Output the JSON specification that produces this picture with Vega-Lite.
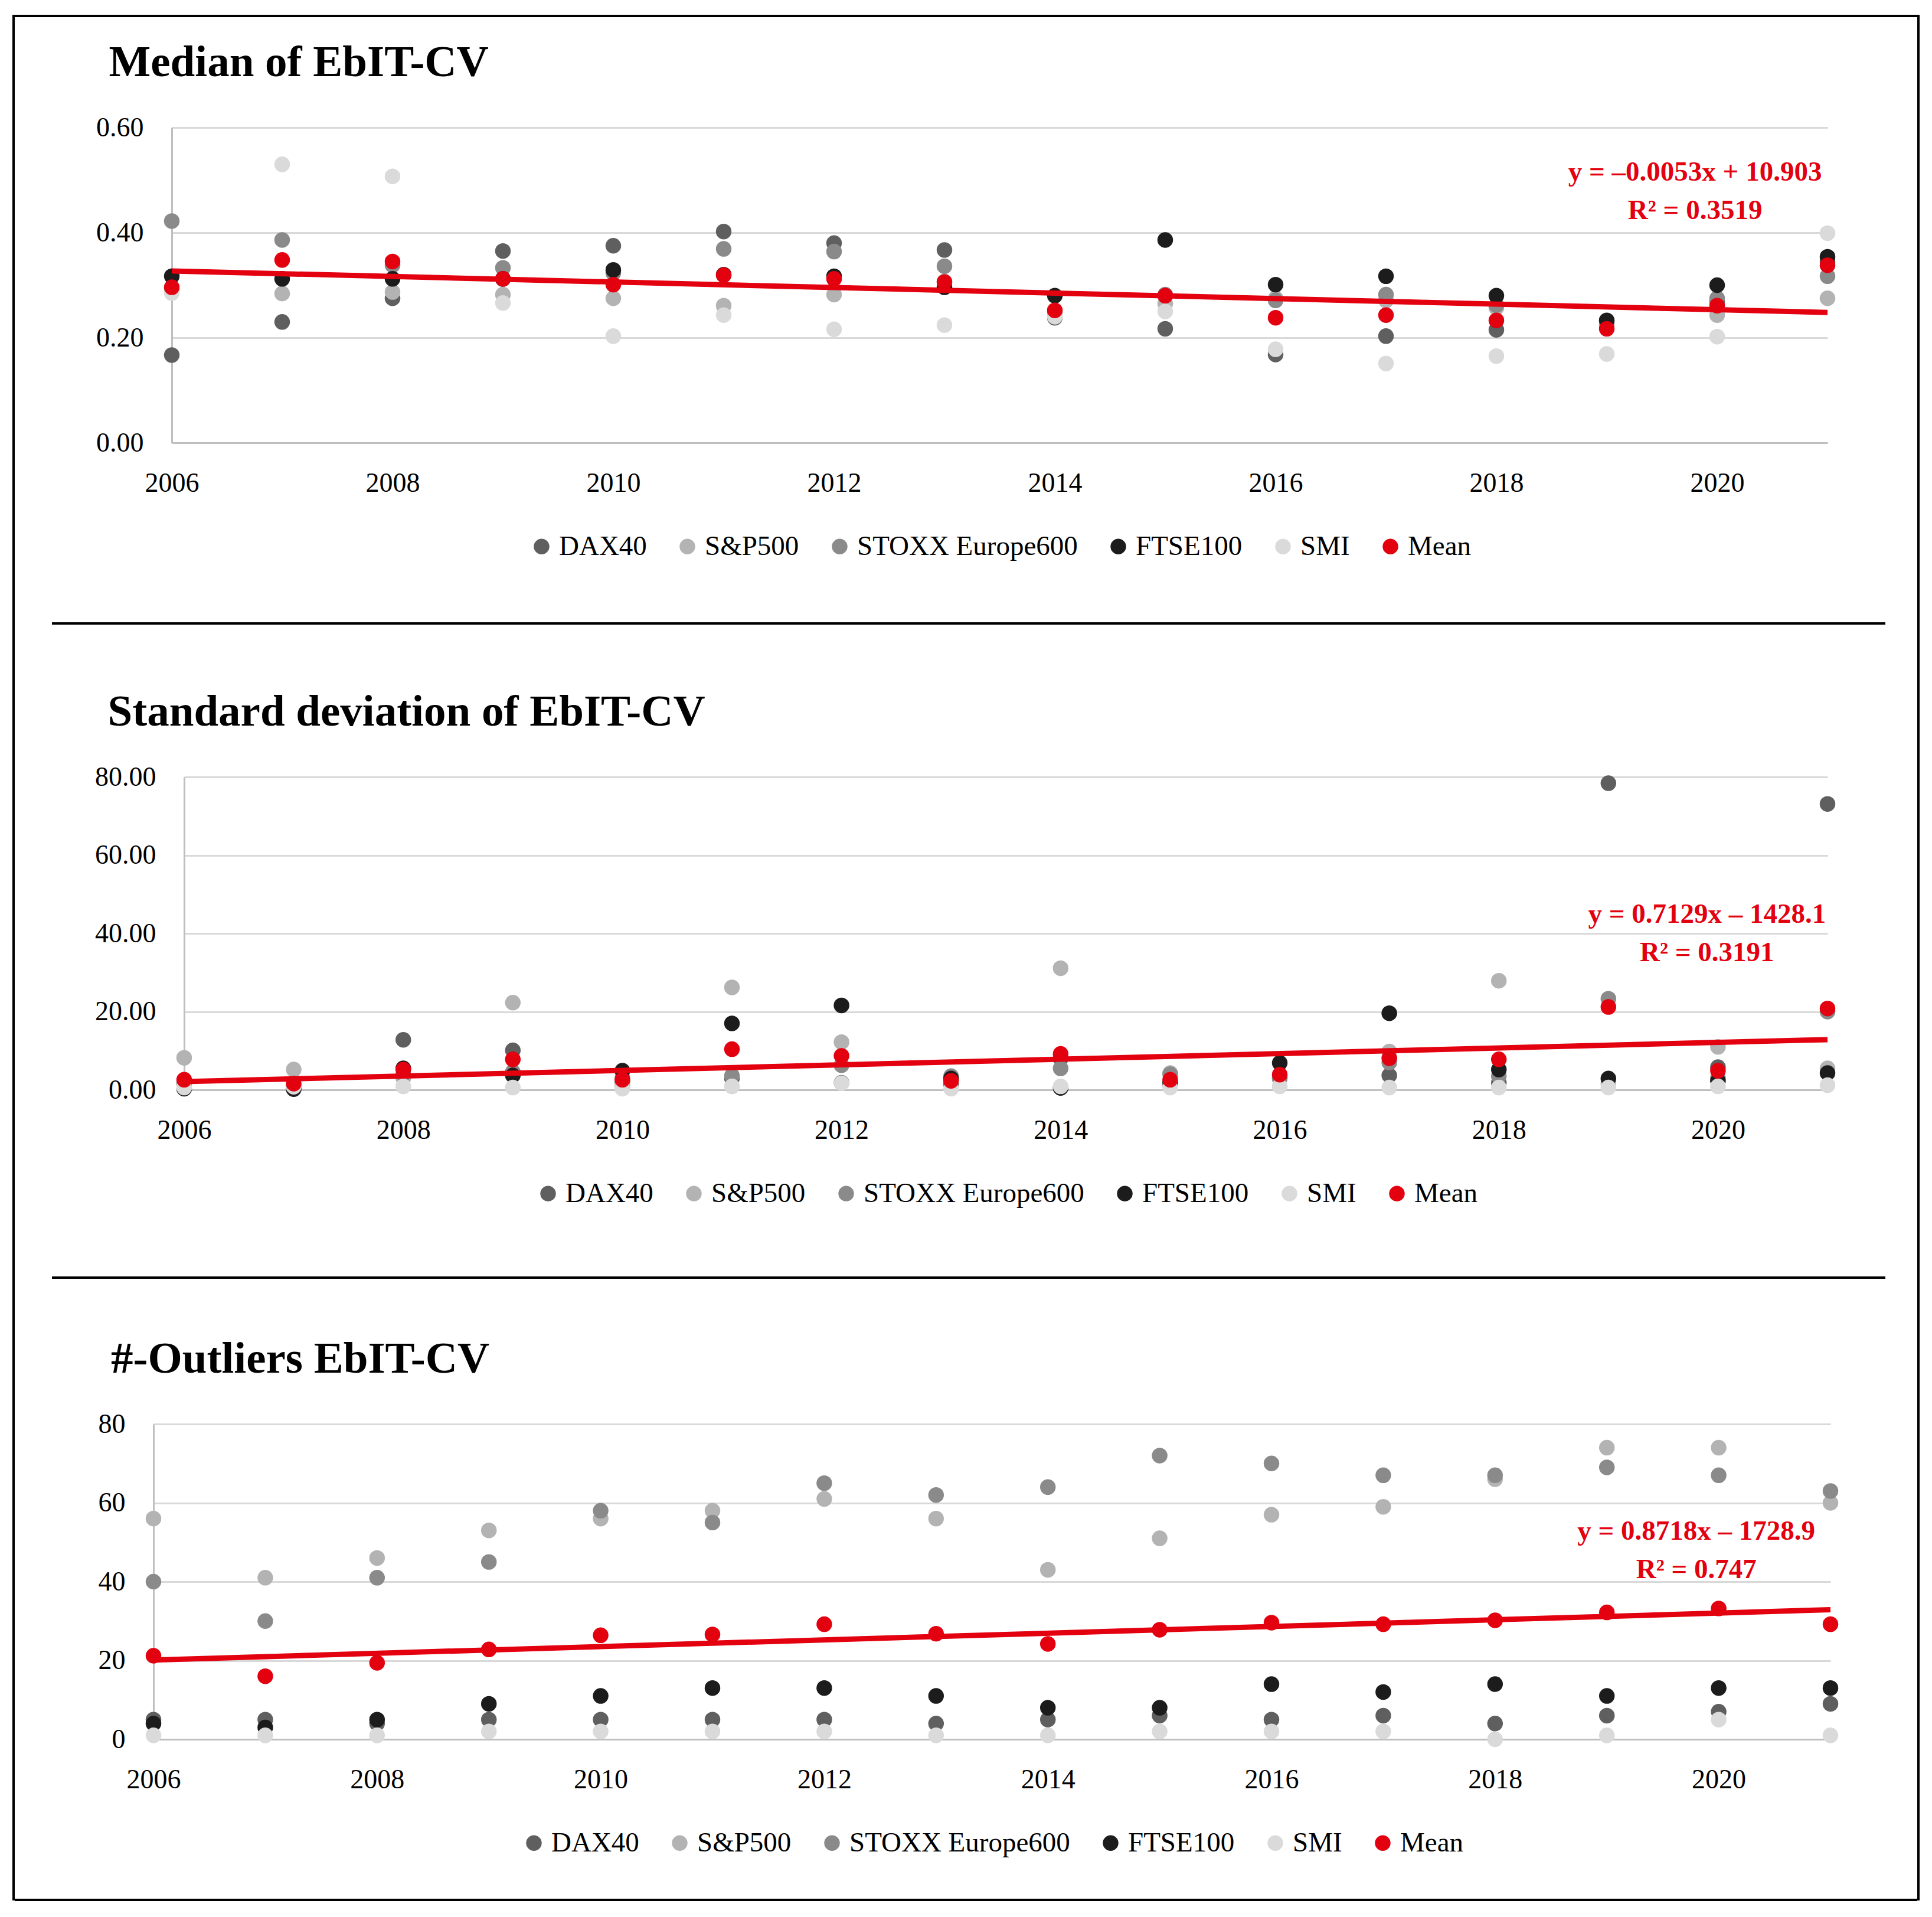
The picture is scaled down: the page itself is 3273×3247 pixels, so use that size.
{
  "$schema": "https://vega.github.io/schema/vega-lite/v6.json",
  "padding": {"left": 21, "top": 25, "right": 0, "bottom": 0},
  "background": "white",
  "datasets": {
    "median": [
      {"year": 2006, "series": "DAX40", "value": 0.167},
      {"year": 2007, "series": "DAX40", "value": 0.230},
      {"year": 2008, "series": "DAX40", "value": 0.275},
      {"year": 2009, "series": "DAX40", "value": 0.365},
      {"year": 2010, "series": "DAX40", "value": 0.375},
      {"year": 2011, "series": "DAX40", "value": 0.402},
      {"year": 2012, "series": "DAX40", "value": 0.380},
      {"year": 2013, "series": "DAX40", "value": 0.367},
      {"year": 2014, "series": "DAX40", "value": 0.238},
      {"year": 2015, "series": "DAX40", "value": 0.217},
      {"year": 2016, "series": "DAX40", "value": 0.168},
      {"year": 2017, "series": "DAX40", "value": 0.203},
      {"year": 2018, "series": "DAX40", "value": 0.215},
      {"year": 2019, "series": "DAX40", "value": 0.225},
      {"year": 2020, "series": "DAX40", "value": 0.270},
      {"year": 2021, "series": "DAX40", "value": 0.345},
      {"year": 2006, "series": "S&P500", "value": 0.290},
      {"year": 2007, "series": "S&P500", "value": 0.284},
      {"year": 2008, "series": "S&P500", "value": 0.287},
      {"year": 2009, "series": "S&P500", "value": 0.282},
      {"year": 2010, "series": "S&P500", "value": 0.275},
      {"year": 2011, "series": "S&P500", "value": 0.261},
      {"year": 2012, "series": "S&P500", "value": 0.282},
      {"year": 2013, "series": "S&P500", "value": 0.307},
      {"year": 2014, "series": "S&P500", "value": 0.245},
      {"year": 2015, "series": "S&P500", "value": 0.265},
      {"year": 2016, "series": "S&P500", "value": 0.275},
      {"year": 2017, "series": "S&P500", "value": 0.271},
      {"year": 2018, "series": "S&P500", "value": 0.257},
      {"year": 2019, "series": "S&P500", "value": 0.225},
      {"year": 2020, "series": "S&P500", "value": 0.243},
      {"year": 2021, "series": "S&P500", "value": 0.275},
      {"year": 2006, "series": "STOXX Europe600", "value": 0.422},
      {"year": 2007, "series": "STOXX Europe600", "value": 0.386},
      {"year": 2008, "series": "STOXX Europe600", "value": 0.338},
      {"year": 2009, "series": "STOXX Europe600", "value": 0.333},
      {"year": 2010, "series": "STOXX Europe600", "value": 0.323},
      {"year": 2011, "series": "STOXX Europe600", "value": 0.369},
      {"year": 2012, "series": "STOXX Europe600", "value": 0.364},
      {"year": 2013, "series": "STOXX Europe600", "value": 0.336},
      {"year": 2014, "series": "STOXX Europe600", "value": 0.250},
      {"year": 2015, "series": "STOXX Europe600", "value": 0.282},
      {"year": 2016, "series": "STOXX Europe600", "value": 0.271},
      {"year": 2017, "series": "STOXX Europe600", "value": 0.282},
      {"year": 2018, "series": "STOXX Europe600", "value": 0.262},
      {"year": 2019, "series": "STOXX Europe600", "value": 0.232},
      {"year": 2020, "series": "STOXX Europe600", "value": 0.275},
      {"year": 2021, "series": "STOXX Europe600", "value": 0.317},
      {"year": 2006, "series": "FTSE100", "value": 0.317},
      {"year": 2007, "series": "FTSE100", "value": 0.312},
      {"year": 2008, "series": "FTSE100", "value": 0.312},
      {"year": 2009, "series": "FTSE100", "value": 0.312},
      {"year": 2010, "series": "FTSE100", "value": 0.329},
      {"year": 2011, "series": "FTSE100", "value": 0.320},
      {"year": 2012, "series": "FTSE100", "value": 0.317},
      {"year": 2013, "series": "FTSE100", "value": 0.296},
      {"year": 2014, "series": "FTSE100", "value": 0.280},
      {"year": 2015, "series": "FTSE100", "value": 0.386},
      {"year": 2016, "series": "FTSE100", "value": 0.301},
      {"year": 2017, "series": "FTSE100", "value": 0.317},
      {"year": 2018, "series": "FTSE100", "value": 0.280},
      {"year": 2019, "series": "FTSE100", "value": 0.233},
      {"year": 2020, "series": "FTSE100", "value": 0.300},
      {"year": 2021, "series": "FTSE100", "value": 0.354},
      {"year": 2006, "series": "SMI", "value": 0.285},
      {"year": 2007, "series": "SMI", "value": 0.530},
      {"year": 2008, "series": "SMI", "value": 0.507},
      {"year": 2009, "series": "SMI", "value": 0.266},
      {"year": 2010, "series": "SMI", "value": 0.203},
      {"year": 2011, "series": "SMI", "value": 0.243},
      {"year": 2012, "series": "SMI", "value": 0.216},
      {"year": 2013, "series": "SMI", "value": 0.224},
      {"year": 2014, "series": "SMI", "value": 0.240},
      {"year": 2015, "series": "SMI", "value": 0.250},
      {"year": 2016, "series": "SMI", "value": 0.178},
      {"year": 2017, "series": "SMI", "value": 0.151},
      {"year": 2018, "series": "SMI", "value": 0.165},
      {"year": 2019, "series": "SMI", "value": 0.169},
      {"year": 2020, "series": "SMI", "value": 0.202},
      {"year": 2021, "series": "SMI", "value": 0.399},
      {"year": 2006, "series": "Mean", "value": 0.296},
      {"year": 2007, "series": "Mean", "value": 0.348},
      {"year": 2008, "series": "Mean", "value": 0.345},
      {"year": 2009, "series": "Mean", "value": 0.312},
      {"year": 2010, "series": "Mean", "value": 0.301},
      {"year": 2011, "series": "Mean", "value": 0.319},
      {"year": 2012, "series": "Mean", "value": 0.312},
      {"year": 2013, "series": "Mean", "value": 0.306},
      {"year": 2014, "series": "Mean", "value": 0.252},
      {"year": 2015, "series": "Mean", "value": 0.280},
      {"year": 2016, "series": "Mean", "value": 0.238},
      {"year": 2017, "series": "Mean", "value": 0.243},
      {"year": 2018, "series": "Mean", "value": 0.233},
      {"year": 2019, "series": "Mean", "value": 0.217},
      {"year": 2020, "series": "Mean", "value": 0.261},
      {"year": 2021, "series": "Mean", "value": 0.338}
    ],
    "sd": [
      {"year": 2006, "series": "DAX40", "value": 2.0},
      {"year": 2007, "series": "DAX40", "value": 0.5},
      {"year": 2008, "series": "DAX40", "value": 12.8},
      {"year": 2009, "series": "DAX40", "value": 10.1},
      {"year": 2010, "series": "DAX40", "value": 2.0},
      {"year": 2011, "series": "DAX40", "value": 3.0},
      {"year": 2012, "series": "DAX40", "value": 1.8},
      {"year": 2013, "series": "DAX40", "value": 1.5},
      {"year": 2014, "series": "DAX40", "value": 8.0},
      {"year": 2015, "series": "DAX40", "value": 1.5},
      {"year": 2016, "series": "DAX40", "value": 3.0},
      {"year": 2017, "series": "DAX40", "value": 3.7},
      {"year": 2018, "series": "DAX40", "value": 1.8},
      {"year": 2019, "series": "DAX40", "value": 78.4},
      {"year": 2020, "series": "DAX40", "value": 5.8},
      {"year": 2021, "series": "DAX40", "value": 73.1},
      {"year": 2006, "series": "S&P500", "value": 8.2},
      {"year": 2007, "series": "S&P500", "value": 5.2},
      {"year": 2008, "series": "S&P500", "value": 3.0},
      {"year": 2009, "series": "S&P500", "value": 22.3},
      {"year": 2010, "series": "S&P500", "value": 1.0},
      {"year": 2011, "series": "S&P500", "value": 26.2},
      {"year": 2012, "series": "S&P500", "value": 12.2},
      {"year": 2013, "series": "S&P500", "value": 3.0},
      {"year": 2014, "series": "S&P500", "value": 31.1},
      {"year": 2015, "series": "S&P500", "value": 4.3},
      {"year": 2016, "series": "S&P500", "value": 3.5},
      {"year": 2017, "series": "S&P500", "value": 9.8},
      {"year": 2018, "series": "S&P500", "value": 27.9},
      {"year": 2019, "series": "S&P500", "value": 1.5},
      {"year": 2020, "series": "S&P500", "value": 11.0},
      {"year": 2021, "series": "S&P500", "value": 5.5},
      {"year": 2006, "series": "STOXX Europe600", "value": 1.5},
      {"year": 2007, "series": "STOXX Europe600", "value": 1.0},
      {"year": 2008, "series": "STOXX Europe600", "value": 4.0},
      {"year": 2009, "series": "STOXX Europe600", "value": 4.6},
      {"year": 2010, "series": "STOXX Europe600", "value": 3.0},
      {"year": 2011, "series": "STOXX Europe600", "value": 3.6},
      {"year": 2012, "series": "STOXX Europe600", "value": 6.3},
      {"year": 2013, "series": "STOXX Europe600", "value": 3.5},
      {"year": 2014, "series": "STOXX Europe600", "value": 5.5},
      {"year": 2015, "series": "STOXX Europe600", "value": 4.0},
      {"year": 2016, "series": "STOXX Europe600", "value": 3.0},
      {"year": 2017, "series": "STOXX Europe600", "value": 7.0},
      {"year": 2018, "series": "STOXX Europe600", "value": 3.5},
      {"year": 2019, "series": "STOXX Europe600", "value": 23.3},
      {"year": 2020, "series": "STOXX Europe600", "value": 3.0},
      {"year": 2021, "series": "STOXX Europe600", "value": 20.0},
      {"year": 2006, "series": "FTSE100", "value": 0.3},
      {"year": 2007, "series": "FTSE100", "value": 0.2},
      {"year": 2008, "series": "FTSE100", "value": 5.5},
      {"year": 2009, "series": "FTSE100", "value": 3.7},
      {"year": 2010, "series": "FTSE100", "value": 4.9},
      {"year": 2011, "series": "FTSE100", "value": 17.0},
      {"year": 2012, "series": "FTSE100", "value": 21.6},
      {"year": 2013, "series": "FTSE100", "value": 2.9},
      {"year": 2014, "series": "FTSE100", "value": 0.5},
      {"year": 2015, "series": "FTSE100", "value": 2.0},
      {"year": 2016, "series": "FTSE100", "value": 6.9},
      {"year": 2017, "series": "FTSE100", "value": 19.6},
      {"year": 2018, "series": "FTSE100", "value": 5.2},
      {"year": 2019, "series": "FTSE100", "value": 2.9},
      {"year": 2020, "series": "FTSE100", "value": 2.3},
      {"year": 2021, "series": "FTSE100", "value": 4.3},
      {"year": 2006, "series": "SMI", "value": 0.6},
      {"year": 2007, "series": "SMI", "value": 0.8},
      {"year": 2008, "series": "SMI", "value": 0.9},
      {"year": 2009, "series": "SMI", "value": 0.6},
      {"year": 2010, "series": "SMI", "value": 0.3},
      {"year": 2011, "series": "SMI", "value": 0.9},
      {"year": 2012, "series": "SMI", "value": 1.7},
      {"year": 2013, "series": "SMI", "value": 0.3},
      {"year": 2014, "series": "SMI", "value": 0.9},
      {"year": 2015, "series": "SMI", "value": 0.6},
      {"year": 2016, "series": "SMI", "value": 0.9},
      {"year": 2017, "series": "SMI", "value": 0.6},
      {"year": 2018, "series": "SMI", "value": 0.6},
      {"year": 2019, "series": "SMI", "value": 0.6},
      {"year": 2020, "series": "SMI", "value": 0.9},
      {"year": 2021, "series": "SMI", "value": 1.2},
      {"year": 2006, "series": "Mean", "value": 2.6},
      {"year": 2007, "series": "Mean", "value": 1.6},
      {"year": 2008, "series": "Mean", "value": 5.2},
      {"year": 2009, "series": "Mean", "value": 7.8},
      {"year": 2010, "series": "Mean", "value": 2.6},
      {"year": 2011, "series": "Mean", "value": 10.4},
      {"year": 2012, "series": "Mean", "value": 8.7},
      {"year": 2013, "series": "Mean", "value": 2.3},
      {"year": 2014, "series": "Mean", "value": 9.2},
      {"year": 2015, "series": "Mean", "value": 2.6},
      {"year": 2016, "series": "Mean", "value": 3.9},
      {"year": 2017, "series": "Mean", "value": 8.1},
      {"year": 2018, "series": "Mean", "value": 7.8},
      {"year": 2019, "series": "Mean", "value": 21.2},
      {"year": 2020, "series": "Mean", "value": 4.9},
      {"year": 2021, "series": "Mean", "value": 20.8}
    ],
    "outliers": [
      {"year": 2006, "series": "DAX40", "value": 5},
      {"year": 2007, "series": "DAX40", "value": 5},
      {"year": 2008, "series": "DAX40", "value": 4},
      {"year": 2009, "series": "DAX40", "value": 5},
      {"year": 2010, "series": "DAX40", "value": 5},
      {"year": 2011, "series": "DAX40", "value": 5},
      {"year": 2012, "series": "DAX40", "value": 5},
      {"year": 2013, "series": "DAX40", "value": 4},
      {"year": 2014, "series": "DAX40", "value": 5},
      {"year": 2015, "series": "DAX40", "value": 6},
      {"year": 2016, "series": "DAX40", "value": 5},
      {"year": 2017, "series": "DAX40", "value": 6},
      {"year": 2018, "series": "DAX40", "value": 4},
      {"year": 2019, "series": "DAX40", "value": 6},
      {"year": 2020, "series": "DAX40", "value": 7},
      {"year": 2021, "series": "DAX40", "value": 9},
      {"year": 2006, "series": "S&P500", "value": 56},
      {"year": 2007, "series": "S&P500", "value": 41},
      {"year": 2008, "series": "S&P500", "value": 46},
      {"year": 2009, "series": "S&P500", "value": 53},
      {"year": 2010, "series": "S&P500", "value": 56},
      {"year": 2011, "series": "S&P500", "value": 58},
      {"year": 2012, "series": "S&P500", "value": 61},
      {"year": 2013, "series": "S&P500", "value": 56},
      {"year": 2014, "series": "S&P500", "value": 43},
      {"year": 2015, "series": "S&P500", "value": 51},
      {"year": 2016, "series": "S&P500", "value": 57},
      {"year": 2017, "series": "S&P500", "value": 59},
      {"year": 2018, "series": "S&P500", "value": 66},
      {"year": 2019, "series": "S&P500", "value": 74},
      {"year": 2020, "series": "S&P500", "value": 74},
      {"year": 2021, "series": "S&P500", "value": 60},
      {"year": 2006, "series": "STOXX Europe600", "value": 40},
      {"year": 2007, "series": "STOXX Europe600", "value": 30},
      {"year": 2008, "series": "STOXX Europe600", "value": 41},
      {"year": 2009, "series": "STOXX Europe600", "value": 45},
      {"year": 2010, "series": "STOXX Europe600", "value": 58},
      {"year": 2011, "series": "STOXX Europe600", "value": 55},
      {"year": 2012, "series": "STOXX Europe600", "value": 65},
      {"year": 2013, "series": "STOXX Europe600", "value": 62},
      {"year": 2014, "series": "STOXX Europe600", "value": 64},
      {"year": 2015, "series": "STOXX Europe600", "value": 72},
      {"year": 2016, "series": "STOXX Europe600", "value": 70},
      {"year": 2017, "series": "STOXX Europe600", "value": 67},
      {"year": 2018, "series": "STOXX Europe600", "value": 67},
      {"year": 2019, "series": "STOXX Europe600", "value": 69},
      {"year": 2020, "series": "STOXX Europe600", "value": 67},
      {"year": 2021, "series": "STOXX Europe600", "value": 63},
      {"year": 2006, "series": "FTSE100", "value": 4},
      {"year": 2007, "series": "FTSE100", "value": 3},
      {"year": 2008, "series": "FTSE100", "value": 5},
      {"year": 2009, "series": "FTSE100", "value": 9},
      {"year": 2010, "series": "FTSE100", "value": 11},
      {"year": 2011, "series": "FTSE100", "value": 13},
      {"year": 2012, "series": "FTSE100", "value": 13},
      {"year": 2013, "series": "FTSE100", "value": 11},
      {"year": 2014, "series": "FTSE100", "value": 8},
      {"year": 2015, "series": "FTSE100", "value": 8},
      {"year": 2016, "series": "FTSE100", "value": 14},
      {"year": 2017, "series": "FTSE100", "value": 12},
      {"year": 2018, "series": "FTSE100", "value": 14},
      {"year": 2019, "series": "FTSE100", "value": 11},
      {"year": 2020, "series": "FTSE100", "value": 13},
      {"year": 2021, "series": "FTSE100", "value": 13},
      {"year": 2006, "series": "SMI", "value": 1},
      {"year": 2007, "series": "SMI", "value": 1},
      {"year": 2008, "series": "SMI", "value": 1},
      {"year": 2009, "series": "SMI", "value": 2},
      {"year": 2010, "series": "SMI", "value": 2},
      {"year": 2011, "series": "SMI", "value": 2},
      {"year": 2012, "series": "SMI", "value": 2},
      {"year": 2013, "series": "SMI", "value": 1},
      {"year": 2014, "series": "SMI", "value": 1},
      {"year": 2015, "series": "SMI", "value": 2},
      {"year": 2016, "series": "SMI", "value": 2},
      {"year": 2017, "series": "SMI", "value": 2},
      {"year": 2018, "series": "SMI", "value": 0},
      {"year": 2019, "series": "SMI", "value": 1},
      {"year": 2020, "series": "SMI", "value": 5},
      {"year": 2021, "series": "SMI", "value": 1},
      {"year": 2006, "series": "Mean", "value": 21.2},
      {"year": 2007, "series": "Mean", "value": 16.0},
      {"year": 2008, "series": "Mean", "value": 19.4},
      {"year": 2009, "series": "Mean", "value": 22.8},
      {"year": 2010, "series": "Mean", "value": 26.4},
      {"year": 2011, "series": "Mean", "value": 26.6},
      {"year": 2012, "series": "Mean", "value": 29.2},
      {"year": 2013, "series": "Mean", "value": 26.8},
      {"year": 2014, "series": "Mean", "value": 24.2},
      {"year": 2015, "series": "Mean", "value": 27.8},
      {"year": 2016, "series": "Mean", "value": 29.6},
      {"year": 2017, "series": "Mean", "value": 29.2},
      {"year": 2018, "series": "Mean", "value": 30.2},
      {"year": 2019, "series": "Mean", "value": 32.2},
      {"year": 2020, "series": "Mean", "value": 33.2},
      {"year": 2021, "series": "Mean", "value": 29.2}
    ]
  },
  "hconcat": [
    {"width": 4, "height": 3194, "data": {"values": []}, "mark": "point", "view": {"fill": "black", "stroke": null}},
    {
      "vconcat": [
        {"width": 3223, "height": 4, "data": {"values": []}, "mark": "point", "view": {"fill": "black", "stroke": null}},
        {"width": 10, "height": 40, "data": {"values": []}, "mark": "point"},
        {
          "hconcat": [
            {"width": 137, "height": 1, "data": {"values": []}, "mark": "point"},
            {
              "title": {"text": "Median of EbIT-CV"},
              "width": 2805,
              "height": 534,
              "data": {"name": "median"},
              "encoding": {
                "x": {"field": "year", "type": "quantitative", "scale": {"domain": [2006, 2021], "nice": false, "zero": false},
                      "axis": {"values": [2006, 2008, 2010, 2012, 2014, 2016, 2018, 2020], "format": "d", "title": null, "grid": false, "labelFlush": false}},
                "y": {"field": "value", "type": "quantitative", "scale": {"domain": [0, 0.6], "nice": false},
                      "axis": {"values": [0, 0.2, 0.4, 0.6], "format": ".2f", "title": null}}
              },
              "layer": [
                {
                  "mark": {"type": "point", "filled": true, "opacity": 1, "size": 700},
                  "encoding": {
                    "color": {"field": "series", "type": "nominal",
                              "scale": {"domain": ["DAX40", "S&P500", "STOXX Europe600", "FTSE100", "SMI", "Mean"],
                                        "range": ["#5f5f5f", "#b3b3b3", "#8a8a8a", "#1c1c1c", "#dadada", "#e3000f"]}}
                  }
                },
                {
                  "transform": [
                    {"filter": "datum.series === 'Mean'"},
                    {"regression": "value", "on": "year", "extent": [2006, 2021]}
                  ],
                  "mark": {"type": "line", "color": "#e3000f", "strokeWidth": 9}
                },
                {
                  "transform": [{"filter": "datum.series === 'Mean' && datum.year === 2021"}],
                  "mark": {"type": "text", "text": ["y = –0.0053x + 10.903", "R² = 0.3519"], "lineHeight": 65,
                           "font": "Liberation Serif", "fontWeight": "bold", "fontSize": 47, "fill": "#e3000f", "opacity": 1},
                  "encoding": {"x": {"datum": 2019.8}, "y": {"datum": 0.515}}
                }
              ]
            }
          ],
          "spacing": 0,
          "resolve": {"scale": {"color": "independent"}, "legend": {"color": "independent"}}
        },
        {"width": 10, "height": 105, "data": {"values": []}, "mark": "point"},
        {
          "hconcat": [
            {"width": 63, "height": 4, "data": {"values": []}, "mark": "point"},
            {"width": 3106, "height": 4, "data": {"values": []}, "mark": "point", "view": {"fill": "black", "stroke": null}}
          ],
          "spacing": 0
        },
        {"width": 10, "height": 111, "data": {"values": []}, "mark": "point"},
        {
          "hconcat": [
            {"width": 135, "height": 1, "data": {"values": []}, "mark": "point"},
            {
              "title": {"text": "Standard deviation of EbIT-CV"},
              "width": 2784,
              "height": 530,
              "data": {"name": "sd"},
              "encoding": {
                "x": {"field": "year", "type": "quantitative", "scale": {"domain": [2006, 2021], "nice": false, "zero": false},
                      "axis": {"values": [2006, 2008, 2010, 2012, 2014, 2016, 2018, 2020], "format": "d", "title": null, "grid": false, "labelFlush": false}},
                "y": {"field": "value", "type": "quantitative", "scale": {"domain": [0, 80], "nice": false},
                      "axis": {"values": [0, 20, 40, 60, 80], "format": ".2f", "title": null}}
              },
              "layer": [
                {
                  "mark": {"type": "point", "filled": true, "opacity": 1, "size": 700},
                  "encoding": {
                    "color": {"field": "series", "type": "nominal",
                              "scale": {"domain": ["DAX40", "S&P500", "STOXX Europe600", "FTSE100", "SMI", "Mean"],
                                        "range": ["#5f5f5f", "#b3b3b3", "#8a8a8a", "#1c1c1c", "#dadada", "#e3000f"]}}
                  }
                },
                {
                  "transform": [
                    {"filter": "datum.series === 'Mean'"},
                    {"regression": "value", "on": "year", "extent": [2006, 2021]}
                  ],
                  "mark": {"type": "line", "color": "#e3000f", "strokeWidth": 9}
                },
                {
                  "transform": [{"filter": "datum.series === 'Mean' && datum.year === 2021"}],
                  "mark": {"type": "text", "text": ["y = 0.7129x – 1428.1", "R² = 0.3191"], "lineHeight": 65,
                           "font": "Liberation Serif", "fontWeight": "bold", "fontSize": 47, "fill": "#e3000f", "opacity": 1},
                  "encoding": {"x": {"datum": 2019.9}, "y": {"datum": 44.8}}
                }
              ]
            }
          ],
          "spacing": 0,
          "resolve": {"scale": {"color": "independent"}, "legend": {"color": "independent"}}
        },
        {"width": 10, "height": 117, "data": {"values": []}, "mark": "point"},
        {
          "hconcat": [
            {"width": 63, "height": 4, "data": {"values": []}, "mark": "point"},
            {"width": 3106, "height": 4, "data": {"values": []}, "mark": "point", "view": {"fill": "black", "stroke": null}}
          ],
          "spacing": 0
        },
        {"width": 10, "height": 99, "data": {"values": []}, "mark": "point"},
        {
          "hconcat": [
            {"width": 141, "height": 1, "data": {"values": []}, "mark": "point"},
            {
              "title": {"text": "#-Outliers EbIT-CV"},
              "width": 2841,
              "height": 534,
              "data": {"name": "outliers"},
              "encoding": {
                "x": {"field": "year", "type": "quantitative", "scale": {"domain": [2006, 2021], "nice": false, "zero": false},
                      "axis": {"values": [2006, 2008, 2010, 2012, 2014, 2016, 2018, 2020], "format": "d", "title": null, "grid": false, "labelFlush": false}},
                "y": {"field": "value", "type": "quantitative", "scale": {"domain": [0, 80], "nice": false},
                      "axis": {"values": [0, 20, 40, 60, 80], "format": "d", "title": null}}
              },
              "layer": [
                {
                  "mark": {"type": "point", "filled": true, "opacity": 1, "size": 700},
                  "encoding": {
                    "color": {"field": "series", "type": "nominal",
                              "scale": {"domain": ["DAX40", "S&P500", "STOXX Europe600", "FTSE100", "SMI", "Mean"],
                                        "range": ["#5f5f5f", "#b3b3b3", "#8a8a8a", "#1c1c1c", "#dadada", "#e3000f"]}}
                  }
                },
                {
                  "transform": [
                    {"filter": "datum.series === 'Mean'"},
                    {"regression": "value", "on": "year", "extent": [2006, 2021]}
                  ],
                  "mark": {"type": "line", "color": "#e3000f", "strokeWidth": 9}
                },
                {
                  "transform": [{"filter": "datum.series === 'Mean' && datum.year === 2021"}],
                  "mark": {"type": "text", "text": ["y = 0.8718x – 1728.9", "R² = 0.747"], "lineHeight": 65,
                           "font": "Liberation Serif", "fontWeight": "bold", "fontSize": 47, "fill": "#e3000f", "opacity": 1},
                  "encoding": {"x": {"datum": 2019.8}, "y": {"datum": 52.75}}
                }
              ]
            }
          ],
          "spacing": 0,
          "resolve": {"scale": {"color": "independent"}, "legend": {"color": "independent"}}
        },
        {"width": 10, "height": 71, "data": {"values": []}, "mark": "point"},
        {"width": 3223, "height": 4, "data": {"values": []}, "mark": "point", "view": {"fill": "black", "stroke": null}}
      ],
      "spacing": 0,
      "resolve": {"scale": {"color": "independent"}, "legend": {"color": "independent"}}
    },
    {"width": 4, "height": 3194, "data": {"values": []}, "mark": "point", "view": {"fill": "black", "stroke": null}}
  ],
  "spacing": 0,
  "config": {
    "view": {"stroke": null},
    "font": "Liberation Serif",
    "title": {"font": "Liberation Serif", "fontSize": 75, "fontWeight": "bold", "color": "black", "anchor": "start", "frame": "bounds", "dx": 22, "offset": 48},
    "axis": {
      "labelFont": "Liberation Serif", "labelFontSize": 46, "labelColor": "black",
      "domainColor": "#bfbfbf", "domainWidth": 3, "ticks": false,
      "gridColor": "#d9d9d9", "gridWidth": 3, "labelPadding": 46
    },
    "axisY": {"labelPadding": 48},
    "legend": {
      "orient": "bottom", "direction": "horizontal", "title": null,
      "labelFont": "Liberation Serif", "labelFontSize": 47, "labelColor": "black", "labelLimit": 0,
      "symbolType": "circle", "symbolSize": 700, "symbolStrokeWidth": 0,
      "columnPadding": 45, "labelOffset": 6, "offset": 61,
      "layout": {"bottom": {"anchor": "middle"}}
    }
  }
}
